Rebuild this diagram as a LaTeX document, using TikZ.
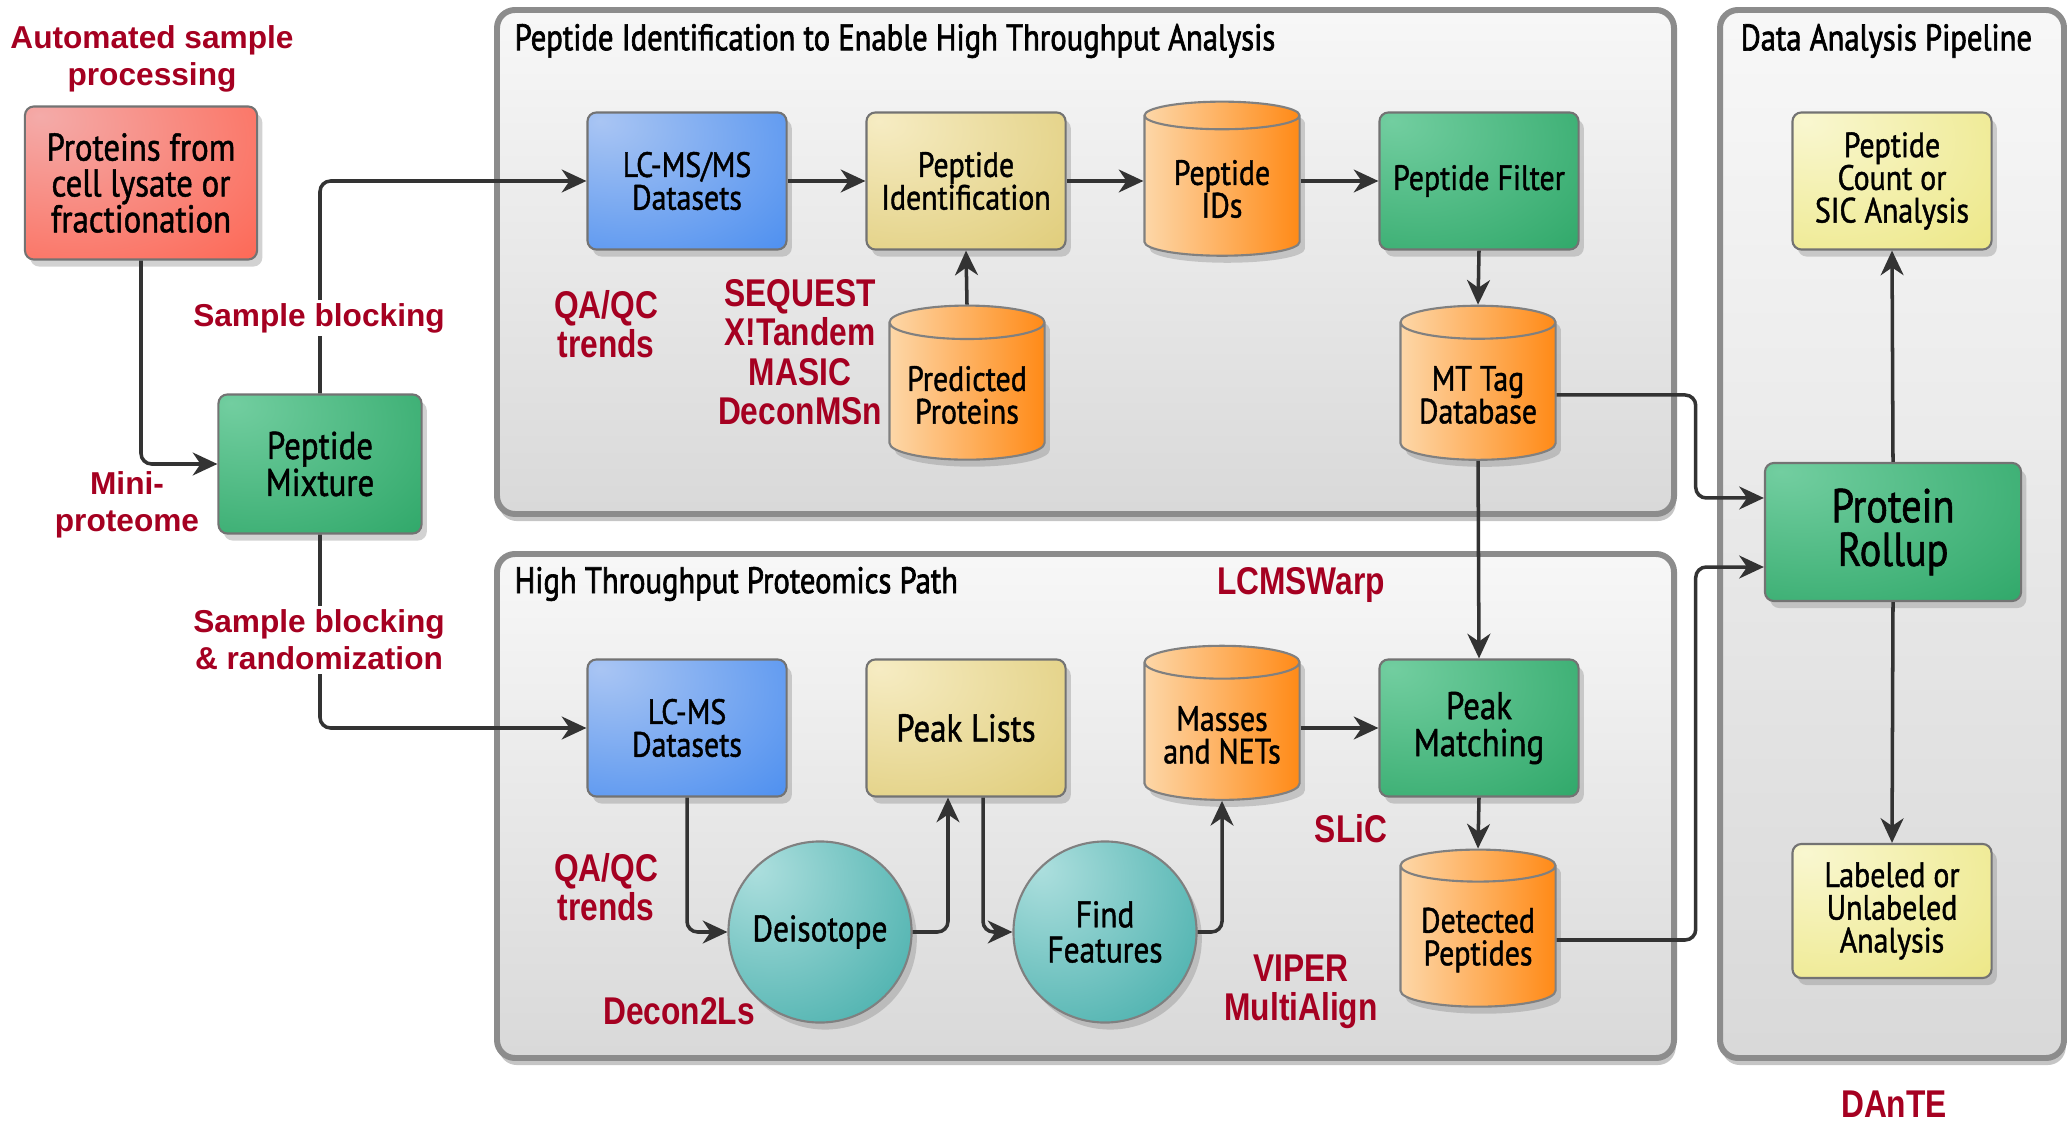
\documentclass[tikz,border=0pt]{standalone}
\usepackage{fontspec}
\usepackage{tikz}
\usetikzlibrary{arrows.meta,shapes.geometric,shadows}

\newfontfamily\boxfont{PT Sans}[FakeStretch=0.85, FakeBold=1.2]
\newfontfamily\titlefont{PT Sans}[FakeStretch=0.83, FakeBold=1.8]
\newfontfamily\lblfont{Liberation Sans}
\newfontfamily\narrowfont{Liberation Sans}[FakeStretch=0.82]

\definecolor{lblred}{RGB}{165,0,33}
\definecolor{wire}{RGB}{51,51,51}
\definecolor{redA}{HTML}{F4ABA9} \definecolor{redB}{HTML}{FF5A44}
\definecolor{grnA}{HTML}{72CEA0} \definecolor{grnB}{HTML}{22A05E}
\definecolor{bluA}{HTML}{A9C5F3} \definecolor{bluB}{HTML}{3A84EF}
\definecolor{tanA}{HTML}{F6ECC3} \definecolor{tanB}{HTML}{DBC66B}
\definecolor{yelA}{HTML}{F9F7D0} \definecolor{yelB}{HTML}{EAE477}
\definecolor{orgA}{HTML}{FDD7A8} \definecolor{orgB}{HTML}{FF8A17}
\definecolor{tealA}{HTML}{ADDFDE} \definecolor{tealB}{HTML}{2EA39F}

% soft highlight in the upper left corner
\pgfdeclareradialshading{redglow}{\pgfpoint{-22bp}{22bp}}{color(0bp)=(redA); color(62bp)=(redB); color(100bp)=(redB)}
\pgfdeclareradialshading{grnglow}{\pgfpoint{-22bp}{22bp}}{color(0bp)=(grnA); color(62bp)=(grnB); color(100bp)=(grnB)}
\pgfdeclareradialshading{bluglow}{\pgfpoint{-22bp}{22bp}}{color(0bp)=(bluA); color(62bp)=(bluB); color(100bp)=(bluB)}
\pgfdeclareradialshading{tanglow}{\pgfpoint{-22bp}{22bp}}{color(0bp)=(tanA); color(62bp)=(tanB); color(100bp)=(tanB)}
\pgfdeclareradialshading{yelglow}{\pgfpoint{-22bp}{22bp}}{color(0bp)=(yelA); color(62bp)=(yelB); color(100bp)=(yelB)}
\pgfdeclareradialshading{tealglow}{\pgfpoint{-18bp}{18bp}}{color(0bp)=(tealA); color(58bp)=(tealB); color(100bp)=(tealB)}

\tikzset{
  panel/.style={draw=black!45, line width=1.7pt, rounded corners=0.18cm,
    top color=black!3, bottom color=black!15,
    drop shadow={shadow xshift=0.5pt, shadow yshift=-2pt, opacity=0.45}},
  paneltitle/.style={anchor=west, inner sep=0pt, font=\titlefont\fontsize{10.5}{12}\selectfont},
  proc/.style={rectangle, rounded corners=0.09cm, draw=black!55, line width=0.6pt,
    minimum width=1.99cm, minimum height=1.37cm, align=center, inner sep=2pt,
    font=\boxfont\fontsize{10}{9.3}\selectfont,
    drop shadow={shadow xshift=1.5pt, shadow yshift=-2pt, opacity=0.35}},
  db/.style={cylinder, shape border rotate=90, aspect=0.25, draw=black!50, line width=0.6pt,
    minimum width=1.55cm, minimum height=1.54cm, align=center, inner sep=2pt,
    font=\boxfont\fontsize{10}{9.3}\selectfont,
    left color=orgA, right color=orgB,
    drop shadow={shadow xshift=1.5pt, shadow yshift=-2pt, opacity=0.35}},
  algo/.style={ellipse, draw=black!50, line width=0.6pt, minimum width=1.83cm,
    minimum height=1.81cm, align=center, inner xsep=-0.3cm, inner ysep=0pt,
    font=\boxfont\fontsize{10.5}{10}\selectfont, shade, shading=tealglow,
    drop shadow={shadow xshift=1.5pt, shadow yshift=-2pt, opacity=0.35}},
  redfill/.style={shade, shading=redglow},
  grnfill/.style={shade, shading=grnglow},
  blufill/.style={shade, shading=bluglow},
  tanfill/.style={shade, shading=tanglow},
  yelfill/.style={shade, shading=yelglow},
  lbl/.style={text=lblred, align=center, inner sep=1pt,
    font=\lblfont\bfseries\fontsize{9}{10.6}\selectfont},
  nlbl/.style={text=lblred, align=center, inner sep=1pt,
    font=\narrowfont\bfseries\fontsize{11}{11.2}\selectfont},
  link/.style={draw=wire, line width=1pt, rounded corners=3pt, ->}
}

\begin{document}
\begin{tikzpicture}[x=0.01cm, y=-0.01cm, >={Stealth[length=7pt,width=6.5pt,inset=2.2pt]}]
  \fill[white] (0,0) rectangle (2067,1122);
  \useasboundingbox (0,0) rectangle (2067,1122);

  % panels
  \draw[panel] (497,10) rectangle (1674,514);
  \draw[panel] (497,554) rectangle (1674,1058);
  \draw[panel] (1720,10) rectangle (2064,1058);
  \node[paneltitle] (ttlid) at (514,41) {Peptide Identification to Enable High Throughput Analysis};
  \node[paneltitle] (ttlht) at (514,584) {High Throughput Proteomics Path};
  \node[paneltitle] (ttlda) at (1740,41) {Data Analysis Pipeline};

  % sample side
  \node[proc, redfill, minimum width=2.32cm, minimum height=1.53cm,
    font=\boxfont\fontsize{11}{10.2}\selectfont] (cells) at (141,183) {Proteins from\\cell lysate or\\fractionation};
  \node[proc, grnfill, minimum width=2.03cm, minimum height=1.39cm,
    font=\boxfont\fontsize{11}{10.5}\selectfont] (mix) at (320,464) {Peptide\\Mixture};

  % identification path
  \node[proc, blufill] (lcmsms) at (687,181) {LC-MS/MS\\Datasets};
  \node[proc, tanfill] (pepid) at (966,181) {Peptide\\Identification};
  \node[db] (pepids) at (1222,189) {Peptide\\IDs};
  \node[proc, grnfill] (filter) at (1479,181) {Peptide Filter};
  \node[db] (predprot) at (967,395) {Predicted\\Proteins};
  \node[db] (mttag) at (1478,395) {MT Tag\\Database};

  % high throughput path
  \node[proc, blufill] (lcms) at (687,728) {LC-MS\\Datasets};
  \node[proc, tanfill, font=\boxfont\fontsize{11}{10}\selectfont] (peaks) at (966,728) {Peak Lists};
  \node[db] (masses) at (1222,735) {Masses\\and NETs};
  \node[proc, grnfill, font=\boxfont\fontsize{11}{10.5}\selectfont] (match) at (1479,728) {Peak\\Matching};
  \node[db, minimum height=1.57cm] (detected) at (1478,940) {Detected\\Peptides};
  \node[algo] (deiso) at (820,932) {Deisotope};
  \node[algo] (findf) at (1105,932) {Find\\Features};

  % pipeline
  \node[proc, yelfill] (count) at (1892,181) {Peptide\\Count or\\SIC Analysis};
  \node[proc, grnfill, minimum width=2.56cm, minimum height=1.38cm,
    font=\boxfont\fontsize{13.5}{12.4}\selectfont] (rollup) at (1893,532) {Protein\\Rollup};
  \node[proc, yelfill, minimum height=1.34cm] (labeled) at (1892,911) {Labeled or\\Unlabeled\\Analysis};

  % connectors
  \draw[link] (cells.south) |- (mix.west);
  \draw[link] (mix.north) |- (lcmsms.west);
  \draw[link] (mix.south) |- (lcms.west);
  \draw[link] (lcmsms.east) -- (pepid.west);
  \draw[link] (pepid.east) -- (pepid.east -| pepids.west);
  \draw[link] (pepids.east |- filter.west) -- (filter.west);
  \draw[link] (predprot.north) -- (pepid.south);
  \draw[link] (filter.south) -- (mttag.north);
  \draw[link] (mttag.east) -- ++(1.39cm,0) |- ([yshift=0.34cm]rollup.west);
  \draw[link] (mttag.south) -- (match.north);
  \draw[link] (masses.east |- match.west) -- (match.west);
  \draw[link] (match.south) -- (detected.north);
  \draw[link] (detected.east) -- ++(1.39cm,0) |- ([yshift=-0.35cm]rollup.west);
  \draw[link] (lcms.south) |- (deiso.west);
  \draw[link] (deiso.east) -| ([xshift=-0.18cm]peaks.south);
  \draw[link] ([xshift=0.17cm]peaks.south) |- (findf.west);
  \draw[link] (findf.east) -| (masses.south);
  \draw[link] (rollup.north) -- (count.south);
  \draw[link] (rollup.south) -- (labeled.north);

  % tool labels
  \node[lbl] (autolbl) at (152,59) {Automated sample\\processing};
  \node[lbl, fill=white] (blocklbl) at (319,318) {Sample blocking};
  \node[lbl] (minilbl) at (127,505) {Mini-\\proteome};
  \node[lbl, fill=white] (randlbl) at (319,640) {Sample blocking\\\& randomization};
  \node[nlbl] (qc1lbl) at (606,324) {QA/QC\\trends};
  \node[nlbl] (searchlbl) at (800,352) {SEQUEST\\X!Tandem\\MASIC\\DeconMSn};
  \node[nlbl] (qc2lbl) at (606,887) {QA/QC\\trends};
  \node[nlbl] (deconlbl) at (679,1011) {Decon2Ls};
  \node[nlbl] (warplbl) at (1301,585) {LCMSWarp};
  \node[nlbl] (sliclbl) at (1351,829) {SLiC};
  \node[nlbl] (viperlbl) at (1301,992) {VIPER\\MultiAlign};
  \node[nlbl, inner sep=0pt] (dantelbl) at (1894,1104) {DAnTE};
\end{tikzpicture}
\end{document}
